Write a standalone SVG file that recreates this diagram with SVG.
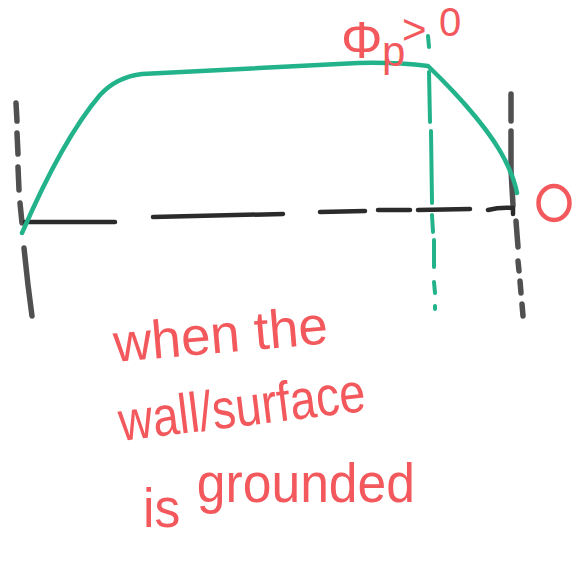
<svg xmlns="http://www.w3.org/2000/svg" width="581" height="562" viewBox="0 0 581 562">
<style>
.ink{fill:none;stroke:#2b2b2b;stroke-width:4.5;stroke-linecap:round}
.wall{fill:none;stroke:#505050;stroke-width:5.5;stroke-linecap:round}
.grn{fill:none;stroke:#22b38a;stroke-width:4.5;stroke-linecap:round;stroke-linejoin:round}
.gd{fill:none;stroke:#22b38a;stroke-width:4;stroke-linecap:round}
.red{fill:#f2585c;font-family:"Liberation Sans","DejaVu Sans",sans-serif}
.redc{fill:none;stroke:#f2585c;stroke-width:4.5}
</style>
<rect width="581" height="562" fill="#ffffff"/>
<g id="left-wall">
<path class="wall" d="M16,103 L17,121 M17,133 L18,154 M18,167 L19,190 M20,203 L22,223 M24,248 L28,285 L32,316"/>
</g>
<g id="right-wall">
<path class="wall" d="M511,94 L511,121 M511,131 L511,170 L513,205 M516,221 L518,247 M518,261 L519,271 M520,281 L521,293 M522,304 L523,316"/>
</g>
<g id="axis">
<path class="ink" d="M25,222 L115,222 M153,217 L283,214 M320,212 L365,211 M378,210 L410,210 M418,210 L470,209 M488,210 Q500,207 513,208 L513,214"/>
</g>
<g id="potential-curve">
<path class="grn" d="M22,233 C45,180 72,128 100,95 C112,82 125,76 142,74 L358,63 Q395,62 428,66 C455,92 490,130 505,160 C511,172 515,182 517,193"/>
</g>
<g id="plasma-sheath-edge">
<path class="gd" d="M428,36 L429,47 M429,72 L430,122 M431,131 L432,203 M432,215 L433,232 M434,240 L434,267 M434,282 L435,293 M435,306 L435,309"/>
</g>
<g id="labels">
<text class="red" x="341" y="58" font-size="52">Φ<tspan x="382" y="66" font-size="42">p</tspan><tspan x="402" y="44" font-size="42">&gt;</tspan><tspan x="439" y="36" font-size="40">0</tspan></text>
<ellipse class="redc" cx="554" cy="203" rx="15.5" ry="17"/>
<text class="red" font-size="54" x="115" y="362" textLength="215" lengthAdjust="spacingAndGlyphs" transform="rotate(-5 115 362)">when the</text>
<text class="red" font-size="56" x="121" y="441" textLength="248" lengthAdjust="spacingAndGlyphs" transform="rotate(-7 121 441)">wall/surface</text>
<text class="red" font-size="56" x="143" y="527" textLength="272" lengthAdjust="spacingAndGlyphs">is<tspan dx="18" dy="-25">grounded</tspan></text>
</g>
</svg>
